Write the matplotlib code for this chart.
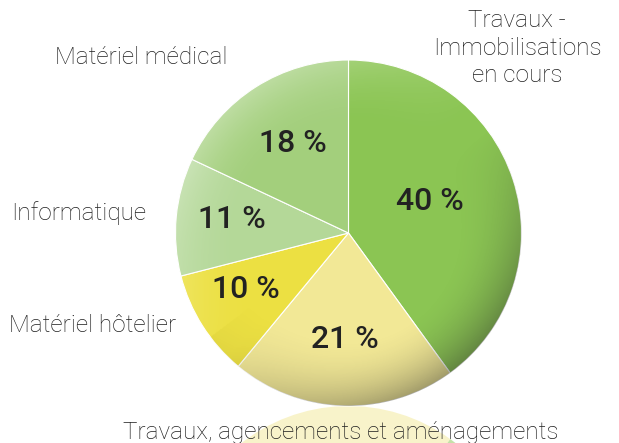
import numpy as np
import matplotlib
matplotlib.use('Agg')
import matplotlib.pyplot as plt
from matplotlib.patches import Circle

plt.rcParams['font.family'] = ['Roboto', 'DejaVu Sans']

# données
categories = ['Travaux -\nImmobilisations\nen cours', 'Travaux, agencements et aménagements',
              'Matériel hôtelier', 'Informatique', 'Matériel médical']
parts = [40, 21, 10, 11, 18]
couleurs = ['#8bc553', '#f2e896', '#ece042', '#b4d898', '#a3cf7c']
pct_labels = ['40 %', '21 %', '10 %', '11 %', '18 %']

fig = plt.figure(figsize=(6.19, 4.43), dpi=100)
ax = fig.add_axes([0, 0, 1, 1])

# centre et rayon en pixels (axe y vers le haut)
cx, cy, R = 348.5, 210, 173
y_miroir = 443 - 406  # ligne du reflet

# reflet sous le camembert
ax.pie(parts, colors=couleurs, startangle=-90, counterclock=True,
       center=(cx, 2 * y_miroir - cy), radius=R,
       wedgeprops=dict(alpha=0.5, linewidth=0))

wedges, _ = ax.pie(parts, colors=couleurs, startangle=90, counterclock=False,
                   center=(cx, cy), radius=R,
                   wedgeprops=dict(edgecolor='white', linewidth=0.8))

# ombrage pour l'effet de relief
n = 400
xs = np.linspace(cx - R, cx + R, n)
ys = np.linspace(cy - R, cy + R, n)
X, Y = np.meshgrid(xs, ys)
dx, dy = (X - cx) / R, (Y - cy) / R
rr = np.sqrt(dx**2 + dy**2)
ux, uy = dx / np.maximum(rr, 1e-6), dy / np.maximum(rr, 1e-6)
bord = np.clip((rr - 0.6) / 0.4, 0, 1) ** 2
sombre = np.clip(ux * 0.6 - uy * 0.8, 0, 1) * bord * 0.40
clair = np.clip(-ux * 0.7 + uy * 0.7, 0, 1) * bord * 0.30
img = np.zeros((n, n, 4))
img[..., :3] = np.where(sombre[..., None] > 0, 0.15, 1.0)
img[..., 3] = sombre + clair
im = ax.imshow(img, extent=(cx - R, cx + R, cy - R, cy + R), origin='lower',
               interpolation='bilinear', zorder=3)
im.set_clip_path(Circle((cx, cy), R, transform=ax.transData))

# pourcentages
pos_pct = [(430, 201), (345, 339), (246, 290), (232, 219), (293, 143)]
for (px, py), t in zip(pos_pct, pct_labels):
    ax.text(px, 443 - py, t, ha='center', va='center', fontsize=23,
            fontweight='medium', color='#222222', zorder=5)

# libellés
txt = dict(fontsize=17.5, fontweight='light', color='#1e1e1e', zorder=5)
ax.text(517, 443 - 48, categories[0], ha='center', va='center', linespacing=1.25, **txt)
ax.text(341, 443 - 432, categories[1], ha='center', va='center', **txt)
ax.text(176, 443 - 326, categories[2], ha='right', va='center', **txt)
ax.text(146, 443 - 213, categories[3], ha='right', va='center', **txt)
ax.text(227, 443 - 57, categories[4], ha='right', va='center', **txt)

ax.set_xlim(0, 619)
ax.set_ylim(0, 443)
ax.set_aspect('auto')
ax.axis('off')

fig.savefig('out.png', dpi=100)
